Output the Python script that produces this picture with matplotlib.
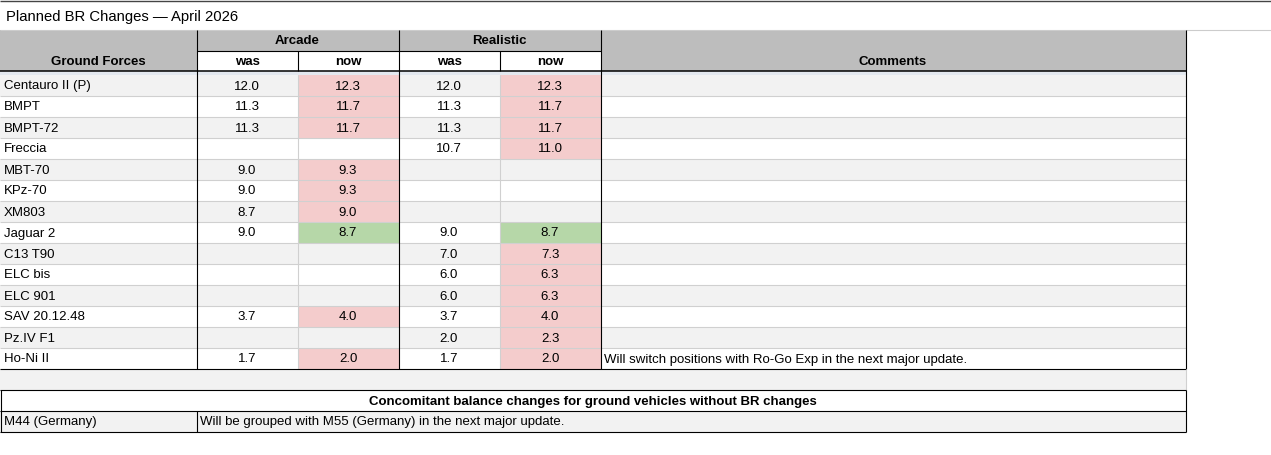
import numpy as np
import matplotlib
matplotlib.use("Agg")
import matplotlib.pyplot as plt
from matplotlib.patches import Rectangle

# ---------------- data ----------------
title = "Planned BR Changes \u2014 April 2026"
vehicles = ["Centauro II (P)", "BMPT", "BMPT-72", "Freccia", "MBT-70", "KPz-70",
            "XM803", "Jaguar 2", "C13 T90", "ELC bis", "ELC 901", "SAV 20.12.48",
            "Pz.IV F1", "Ho-Ni II"]
nan = np.nan
arcade_was = [12.0, 11.3, 11.3, nan, 9.0, 9.0, 8.7, 9.0, nan, nan, nan, 3.7, nan, 1.7]
arcade_now = [12.3, 11.7, 11.7, nan, 9.3, 9.3, 9.0, 8.7, nan, nan, nan, 4.0, nan, 2.0]
realistic_was = [12.0, 11.3, 11.3, 10.7, nan, nan, nan, 9.0, 7.0, 6.0, 6.0, 3.7, 2.0, 1.7]
realistic_now = [12.3, 11.7, 11.7, 11.0, nan, nan, nan, 8.7, 7.3, 6.3, 6.3, 4.0, 2.3, 2.0]
comments = [""] * 13 + ["Will switch positions with Ro-Go Exp in the next major update."]
group_headers = ["Arcade", "Realistic"]
sub_headers = ["was", "now"]
first_header = "Ground Forces"
comments_header = "Comments"
section_title = "Concomitant balance changes for ground vehicles without BR changes"
extra_vehicles = ["M44 (Germany)"]
extra_comments = ["Will be grouped with M55 (Germany) in the next major update."]

# ---------------- style / layout ----------------
W, H = 1271, 455
FONT = "Liberation Sans"
FS = 9.5
HDR_GRAY = "#bdbdbd"
ROW_GRAY = "#f2f2f2"
PINK = "#f4cccc"
GREEN = "#b6d7a8"
GRID = "#d0d0d0"
STRIP = "#e3e8ef"
BLACK = "#000000"
DY = 1.5  # text vertical nudge

xcols = [0, 196.5, 297.5, 398.5, 499.5, 600.5, 1185.5]
hdr_top, hdr_mid, hdr_bot = 29.5, 50.5, 71.0
rows_top = 74.5
row_h = 21.0

fig = plt.figure(figsize=(W / 100, H / 100), dpi=100)
ax = fig.add_axes([0, 0, 1, 1])
ax.set_xlim(0, W)
ax.set_ylim(H, 0)
ax.axis("off")

def rect(x0, y0, x1, y1, color):
    ax.add_patch(Rectangle((x0, y0), x1 - x0, y1 - y0, facecolor=color,
                           edgecolor="none", zorder=1))

def hline(y, x0, x1, color, lw=0.8):
    ax.plot([x0, x1], [y, y], color=color, lw=lw, zorder=3, solid_capstyle="butt")

def vline(x, y0, y1, color, lw=0.8):
    ax.plot([x, x], [y0, y1], color=color, lw=lw, zorder=3, solid_capstyle="butt")

def txt(x, y, s, ha="left", bold=False, size=FS):
    ax.text(x, y + DY, s, ha=ha, va="center", fontsize=size, family=FONT,
            fontweight="bold" if bold else "normal", color="#000000", zorder=4)

# top border and title
hline(0.5, 0, W, "#444444", lw=1.0)
txt(6, 15.5, title, size=10.7)
hline(hdr_top, 0, W, "#cccccc")

# header
rect(0, hdr_top, xcols[6], hdr_bot, HDR_GRAY)
rect(xcols[1], hdr_mid, xcols[5], hdr_bot, "#ffffff")
rect(0, hdr_bot, xcols[6], rows_top, STRIP)
for g, name in enumerate(group_headers):
    xa, xb = xcols[1 + 2 * g], xcols[3 + 2 * g]
    txt((xa + xb) / 2, (hdr_top + hdr_mid) / 2, name, ha="center", bold=True)
    for s, sub in enumerate(sub_headers):
        c0, c1 = xcols[1 + 2 * g + s], xcols[2 + 2 * g + s]
        txt((c0 + c1) / 2, (hdr_mid + hdr_bot) / 2, sub, ha="center", bold=True)
txt(xcols[1] / 2, (hdr_mid + hdr_bot) / 2, first_header, ha="center", bold=True)
txt((xcols[5] + xcols[6]) / 2, (hdr_mid + hdr_bot) / 2, comments_header,
    ha="center", bold=True)
hline(hdr_mid, xcols[1], xcols[5], BLACK)
hline(hdr_bot, 0, xcols[6], BLACK, lw=1.1)
for x in (xcols[2], xcols[4]):
    vline(x, hdr_mid, hdr_bot, BLACK)

# body rows
n = len(vehicles)
value_cols = [arcade_was, arcade_now, realistic_was, realistic_now]
for i in range(n):
    y0 = rows_top + i * row_h
    y1 = y0 + row_h
    yc = (y0 + y1) / 2
    rect(0, y0, xcols[6], y1, ROW_GRAY if i % 2 == 0 else "#ffffff")
    for g, (was, now) in enumerate([(arcade_was, arcade_now),
                                    (realistic_was, realistic_now)]):
        w, v = was[i], now[i]
        if not (np.isnan(w) or np.isnan(v)) and v != w:
            rect(xcols[2 + 2 * g], y0, xcols[3 + 2 * g], y1, PINK if v > w else GREEN)
    txt(4, yc, vehicles[i])
    for c, col in enumerate(value_cols):
        val = col[i]
        if not np.isnan(val):
            txt((xcols[1 + c] + xcols[2 + c]) / 2, yc, f"{val:.1f}", ha="center")
    if comments[i]:
        txt(xcols[5] + 3, yc, comments[i])
    if i < n - 1:
        hline(y1, 0, xcols[6], GRID)
rows_bot = rows_top + n * row_h
for x in (xcols[2], xcols[4]):
    vline(x, rows_top, rows_bot, GRID)
for x in (xcols[1], xcols[3], xcols[5], xcols[6]):
    vline(x, hdr_top, rows_bot, BLACK)
hline(rows_bot, 0, xcols[6], BLACK)

# blank separator row
e0, e1 = rows_bot, rows_bot + row_h
rect(0, e0, xcols[6], e1, ROW_GRAY)
vline(xcols[6], e0, e1, GRID)

# concomitant section
s0, s1 = e1, e1 + row_h
rect(0, s0, xcols[6], s1, "#ffffff")
txt(xcols[6] / 2, (s0 + s1) / 2, section_title, ha="center", bold=True)
m0 = s1
for k, (veh, com) in enumerate(zip(extra_vehicles, extra_comments)):
    y0 = m0 + k * row_h
    y1 = y0 + row_h
    rect(0, y0, xcols[6], y1, ROW_GRAY)
    txt(4, (y0 + y1) / 2, veh)
    txt(xcols[1] + 3, (y0 + y1) / 2, com)
    vline(xcols[1], y0, y1, BLACK)
    hline(y1, 0, xcols[6], BLACK)
m1 = m0 + len(extra_vehicles) * row_h
hline(s0, 0, xcols[6], BLACK)
hline(s1, 0, xcols[6], BLACK)
vline(0.5, s0, m1, BLACK)
vline(xcols[6], s0, m1, BLACK)

fig.savefig("out.png", dpi=100, facecolor="white")
